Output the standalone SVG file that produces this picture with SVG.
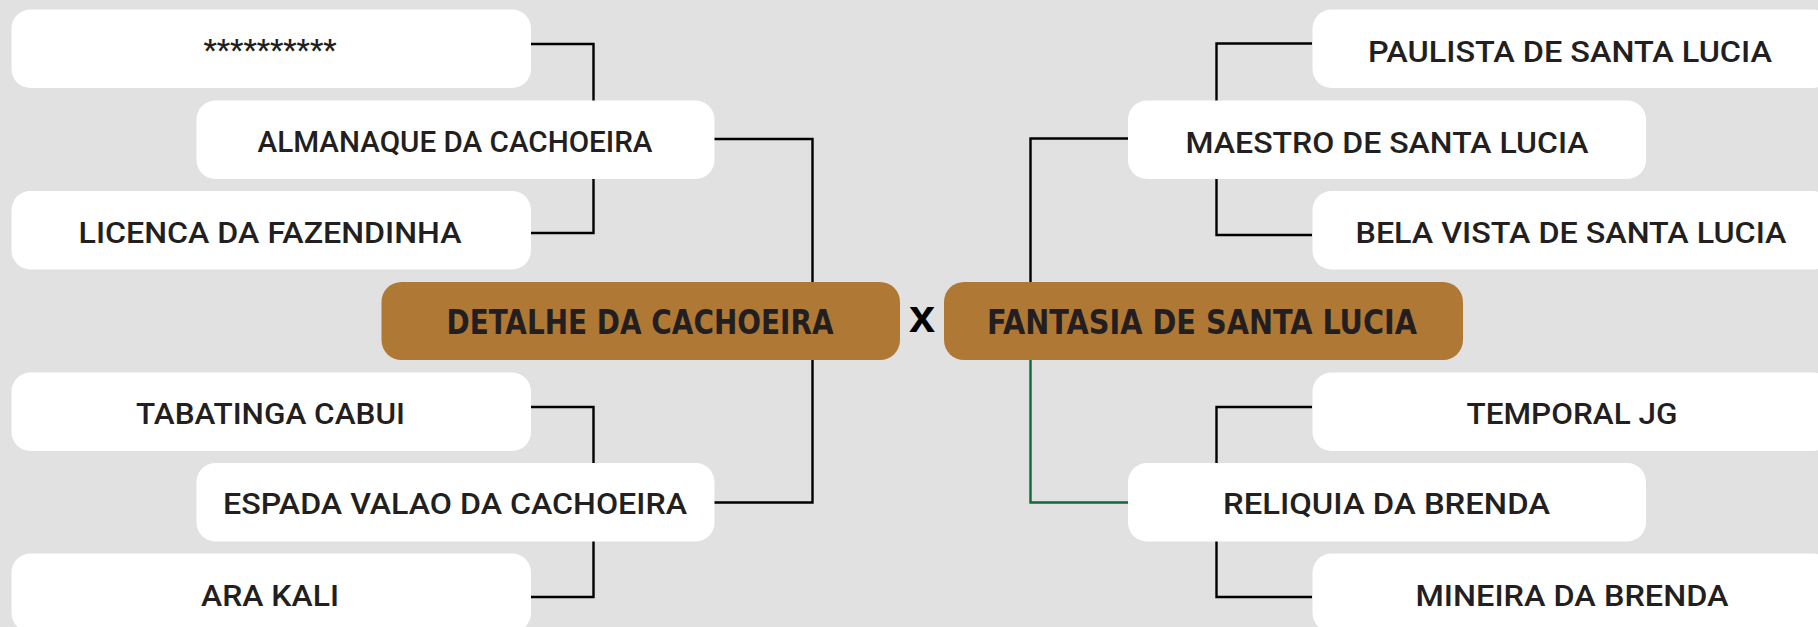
<svg xmlns="http://www.w3.org/2000/svg" width="1818" height="627" viewBox="0 0 1818 627">
  <style>
    .bg { fill: #E1E1E1; }
    .box { fill: #FFFFFF; }
    .main { fill: #AF7835; }
    .lbl { font-family: Roboto, "Liberation Sans", sans-serif; font-weight: 500; font-size: 29px; fill: #231F20; text-anchor: middle; }
    .mlbl { font-family: "DejaVu Sans Condensed", "DejaVu Sans", sans-serif; font-weight: bold; font-size: 33px; fill: #231F20; text-anchor: middle; }
    .vs { font-family: "Liberation Sans", Arial, sans-serif; font-weight: bold; font-size: 47px; fill: #000000; text-anchor: middle; }
    .c { fill: none; stroke: #000000; stroke-width: 2.4; }
    .g { fill: none; stroke: #0B6B3A; stroke-width: 2.4; }
  </style>
  <rect class="bg" x="0" y="0" width="1818" height="627"/>

  <g id="connectors">
    <path class="c" d="M531 44 H593.5 V233 H531"/>
    <path class="c" d="M714 139 H812.5 V502.5 H714"/>
    <path class="c" d="M531 407 H593.5 V597 H531"/>
    <path class="c" d="M1312 43.5 H1216.5 V235 H1312"/>
    <path class="c" d="M1128 138.5 H1030.5 V300"/>
    <path class="g" d="M1030.5 355 V502.5 H1128"/>
    <path class="c" d="M1312 407 H1216.5 V597 H1312"/>
  </g>

  <g id="n-asterisks">
    <rect class="box" x="11.5" y="9.5" width="519.5" height="78.5" rx="19"/>
    <text class="lbl" x="270" y="60" textLength="133" lengthAdjust="spacingAndGlyphs">**********</text>
  </g>
  <g id="n-almanaque">
    <rect class="box" x="196.5" y="100.5" width="518" height="78.5" rx="19"/>
    <text class="lbl" x="455" y="152" textLength="395" lengthAdjust="spacingAndGlyphs">ALMANAQUE DA CACHOEIRA</text>
  </g>
  <g id="n-licenca">
    <rect class="box" x="11.5" y="191" width="519.5" height="78.5" rx="19"/>
    <text class="lbl" x="270" y="243" textLength="383" lengthAdjust="spacingAndGlyphs">LICENCA DA FAZENDINHA</text>
  </g>
  <g id="n-detalhe">
    <rect class="main" x="381.5" y="282" width="518.5" height="78" rx="20"/>
    <text class="mlbl" x="640" y="334" textLength="387" lengthAdjust="spacingAndGlyphs">DETALHE DA CACHOEIRA</text>
  </g>
  <g id="n-tabatinga">
    <rect class="box" x="11.5" y="372.5" width="519.5" height="78.5" rx="19"/>
    <text class="lbl" x="270.5" y="423.5" textLength="269" lengthAdjust="spacingAndGlyphs">TABATINGA CABUI</text>
  </g>
  <g id="n-espada">
    <rect class="box" x="196.5" y="463" width="518" height="78.5" rx="19"/>
    <text class="lbl" x="455" y="514" textLength="464" lengthAdjust="spacingAndGlyphs">ESPADA VALAO DA CACHOEIRA</text>
  </g>
  <g id="n-arakali">
    <rect class="box" x="11.5" y="553.5" width="519.5" height="78.5" rx="19"/>
    <text class="lbl" x="270" y="605.5" textLength="138" lengthAdjust="spacingAndGlyphs">ARA KALI</text>
  </g>

  <g id="vs">
    <text class="vs" x="922" y="332">x</text>
  </g>

  <g id="n-fantasia">
    <rect class="main" x="944" y="282" width="519" height="78" rx="20"/>
    <text class="mlbl" x="1202" y="334" textLength="430" lengthAdjust="spacingAndGlyphs">FANTASIA DE SANTA LUCIA</text>
  </g>
  <g id="n-paulista">
    <rect class="box" x="1312.5" y="9.5" width="519.5" height="78.5" rx="19"/>
    <text class="lbl" x="1570" y="61.5" textLength="404" lengthAdjust="spacingAndGlyphs">PAULISTA DE SANTA LUCIA</text>
  </g>
  <g id="n-maestro">
    <rect class="box" x="1128" y="100.5" width="518" height="78.5" rx="19"/>
    <text class="lbl" x="1387" y="152.5" textLength="403" lengthAdjust="spacingAndGlyphs">MAESTRO DE SANTA LUCIA</text>
  </g>
  <g id="n-belavista">
    <rect class="box" x="1312.5" y="191" width="519.5" height="78.5" rx="19"/>
    <text class="lbl" x="1571" y="243" textLength="431" lengthAdjust="spacingAndGlyphs">BELA VISTA DE SANTA LUCIA</text>
  </g>
  <g id="n-temporal">
    <rect class="box" x="1312.5" y="372.5" width="519.5" height="78.5" rx="19"/>
    <text class="lbl" x="1572" y="423.5" textLength="211" lengthAdjust="spacingAndGlyphs">TEMPORAL JG</text>
  </g>
  <g id="n-reliquia">
    <rect class="box" x="1128" y="463" width="518" height="78.5" rx="19"/>
    <text class="lbl" x="1386.5" y="514" textLength="327" lengthAdjust="spacingAndGlyphs">RELIQUIA DA BRENDA</text>
  </g>
  <g id="n-mineira">
    <rect class="box" x="1312.5" y="553.5" width="519.5" height="78.5" rx="19"/>
    <text class="lbl" x="1572" y="606" textLength="313" lengthAdjust="spacingAndGlyphs">MINEIRA DA BRENDA</text>
  </g>
</svg>
